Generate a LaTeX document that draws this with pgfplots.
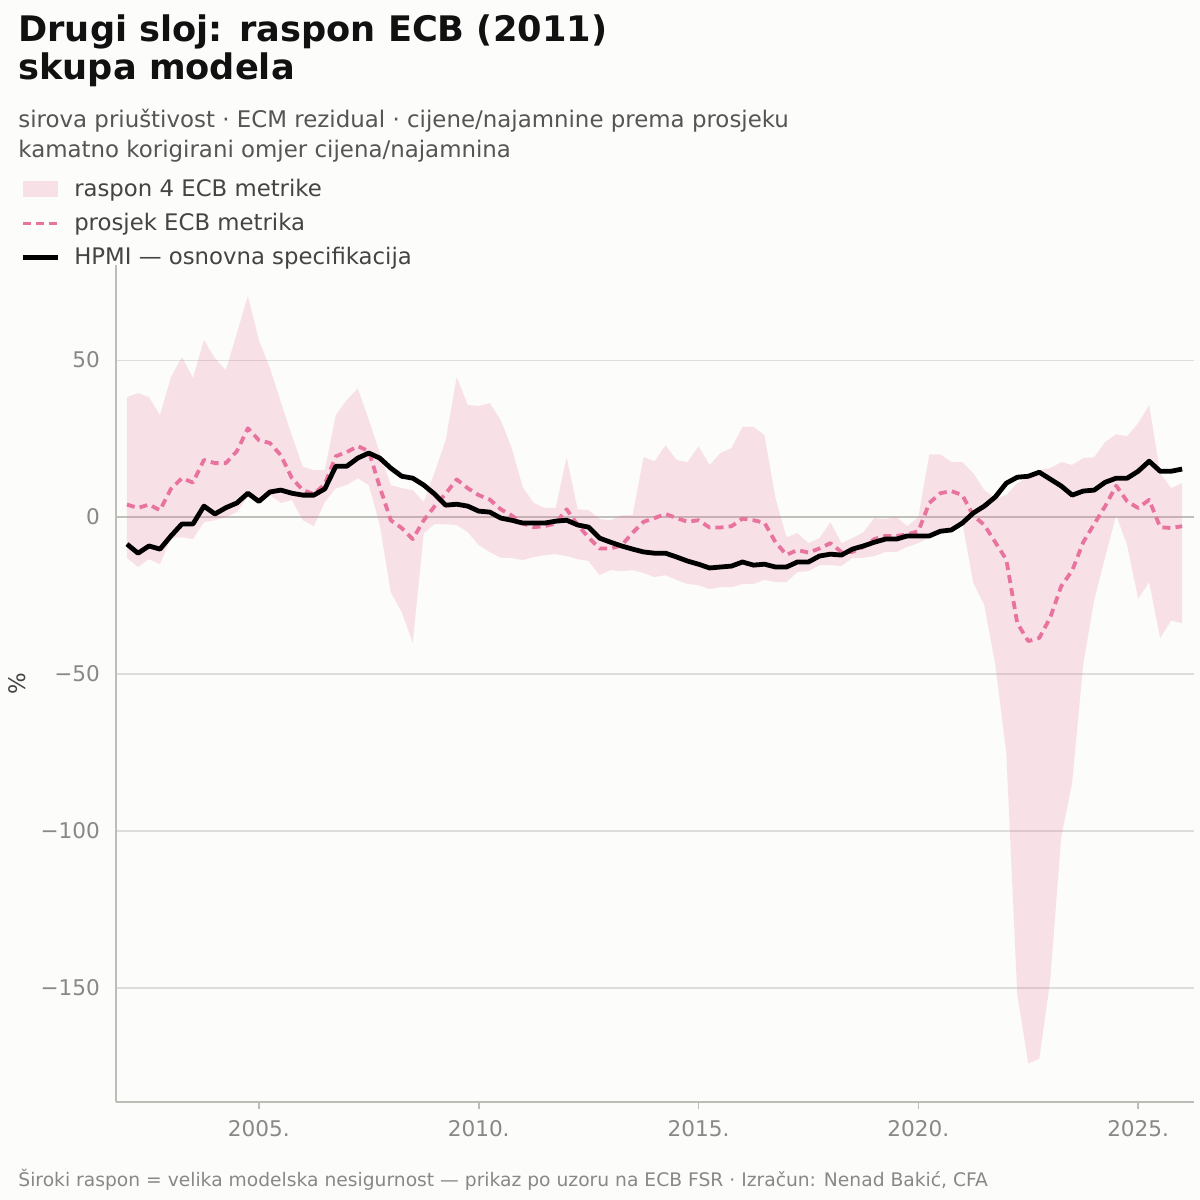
\documentclass[border=0pt]{standalone}
\usepackage{fontspec}
\setmainfont{DejaVu Sans}
\usepackage{pgfplots}
\pgfplotsset{compat=1.18}
\usepackage{pgfplotstable}
\definecolor{bg}{HTML}{FCFCFA}
\definecolor{bandbase}{HTML}{E8739E}
\definecolor{meanpink}{HTML}{E8739E}
\definecolor{titlec}{HTML}{111111}
\definecolor{subc}{HTML}{555555}
\definecolor{legc}{HTML}{444444}
\definecolor{tickc}{HTML}{888888}
\definecolor{gridc}{HTML}{DDDDDD}
\definecolor{zeroc}{HTML}{C0C0BA}
\definecolor{spinec}{HTML}{BDBDB5}
\pgfplotsset{
  linelegend/.style={legend image code/.code={\draw[##1] (0pt,0pt) -- (17.5pt,0pt);}},
  boxlegend/.style={legend image code/.code={\fill[##1] (0pt,-4pt) rectangle (17.5pt,4pt);}},
}

% series: mean of the 4 ECB metrics and HPMI baseline
\pgfplotstableread{
x mean hpmi
2002.00 4 -8.6
2002.25 2.9 -11.5
2002.50 4 -9.2
2002.75 2.2 -10.2
2003.00 9 -6
2003.25 12.4 -2.2
2003.50 11 -2.2
2003.75 18.2 3.5
2004.00 17.2 1
2004.25 17.2 3
2004.50 21 4.5
2004.75 28.3 7.6
2005.00 24.5 5
2005.25 23.6 8
2005.50 19.7 8.6
2005.75 12.4 7.6
2006.00 8.6 7
2006.25 7.3 7
2006.50 10.5 9
2006.75 19.4 16.2
2007.00 20.7 16.2
2007.25 22.6 18.8
2007.50 21 20.4
2007.75 9.6 18.8
2008.00 -1 15.6
2008.25 -3.5 13
2008.50 -7 12.4
2008.75 -1 10.2
2009.00 3.5 7.3
2009.25 7.5 3.8
2009.50 12 4.1
2009.75 9.2 3.5
2010.00 7 1.9
2010.25 5.6 1.6
2010.50 2.5 -0.3
2010.75 0.5 -1
2011.00 -2 -1.9
2011.25 -3.2 -1.9
2011.50 -2.9 -1.9
2011.75 -2 -1.3
2012.00 2.5 -1
2012.25 -2.5 -2.5
2012.50 -6.5 -3.2
2012.75 -10 -6.7
2013.00 -10 -8
2013.25 -9 -9.2
2013.50 -5 -10.2
2013.75 -1.5 -11.1
2014.00 -0.3 -11.5
2014.25 1 -11.5
2014.50 -0.3 -12.7
2014.75 -1.5 -14
2015.00 -1 -15
2015.25 -3.3 -16.2
2015.50 -3.3 -15.9
2015.75 -2.9 -15.6
2016.00 -0.5 -14.3
2016.25 -1 -15.3
2016.50 -1.8 -15
2016.75 -8 -15.9
2017.00 -12 -15.9
2017.25 -10.5 -14.3
2017.50 -11.3 -14.3
2017.75 -10 -12.4
2018.00 -8.3 -11.8
2018.25 -11.1 -12.1
2018.50 -11.1 -10.2
2018.75 -9.5 -9.2
2019.00 -7 -8
2019.25 -6 -7
2019.50 -6 -7
2019.75 -5.5 -6
2020.00 -4.5 -6
2020.25 4.5 -6
2020.50 7.6 -4.5
2020.75 8.3 -4.1
2021.00 7 -1.9
2021.25 0.5 1.3
2021.50 -2.5 3.5
2021.75 -8 6.4
2022.00 -13.5 10.8
2022.25 -33.8 12.7
2022.50 -39.5 13
2022.75 -38.5 14.3
2023.00 -32 12.1
2023.25 -22 9.9
2023.50 -17 7
2023.75 -8 8.3
2024.00 -2.2 8.6
2024.25 3.5 11.1
2024.50 10 12.4
2024.75 5 12.4
2025.00 2.9 14.6
2025.25 5.5 17.8
2025.50 -3.2 14.6
2025.75 -3.5 14.6
2026.00 -2.9 15.3
}\ecbseries

% range band: upper edge forward, then lower edge backward
\pgfplotstableread{
x y
2002.00 38.2
2002.25 39.5
2002.50 38.2
2002.75 32.5
2003.00 44.6
2003.25 51
2003.50 44.3
2003.75 56.4
2004.00 50.6
2004.25 46.8
2004.50 58.6
2004.75 70.4
2005.00 56.4
2005.25 47.5
2005.50 36.6
2005.75 26
2006.00 16
2006.25 15
2006.50 15
2006.75 32.5
2007.00 37.3
2007.25 41
2007.50 31
2007.75 20.4
2008.00 10.2
2008.25 9.2
2008.50 8.6
2008.75 4.8
2009.00 14.3
2009.25 24.5
2009.50 44.6
2009.75 35.7
2010.00 35.4
2010.25 36.3
2010.50 30.9
2010.75 22
2011.00 9.6
2011.25 4.5
2011.50 2.9
2011.75 2.9
2012.00 19.1
2012.25 2.5
2012.50 2.2
2012.75 -0.6
2013.00 -1
2013.25 0.6
2013.50 0.6
2013.75 19.1
2014.00 17.8
2014.25 22.9
2014.50 18.2
2014.75 17.5
2015.00 22.6
2015.25 16.6
2015.50 20.4
2015.75 22
2016.00 28.7
2016.25 28.7
2016.50 26.1
2016.75 6
2017.00 -6.4
2017.25 -5.1
2017.50 -8.3
2017.75 -6.7
2018.00 -1.6
2018.25 -8.3
2018.50 -6.7
2018.75 -4.8
2019.00 -0.3
2019.25 -0.6
2019.50 0
2019.75 -2.9
2020.00 0
2020.25 20
2020.50 20
2020.75 17.5
2021.00 17.5
2021.25 14
2021.50 8.6
2021.75 6
2022.00 7
2022.25 10.8
2022.50 12.7
2022.75 15
2023.00 15.6
2023.25 17.5
2023.50 16.6
2023.75 18.8
2024.00 19.1
2024.25 23.9
2024.50 26.4
2024.75 25.8
2025.00 29.9
2025.25 35.7
2025.50 14
2025.75 9.2
2026.00 10.8
2026.00 -33.8
2025.75 -33
2025.50 -38.5
2025.25 -20.7
2025.00 -26
2024.75 -9
2024.50 0.6
2024.25 -12.7
2024.00 -26.4
2023.75 -47
2023.50 -84.4
2023.25 -102
2023.00 -147.5
2022.75 -172.6
2022.50 -174
2022.25 -152
2022.00 -75
2021.75 -47
2021.50 -28
2021.25 -21
2021.00 -1.6
2020.75 -3.5
2020.50 -4.1
2020.25 -6.4
2020.00 -8.3
2019.75 -9.5
2019.50 -11.1
2019.25 -11.1
2019.00 -12.4
2018.75 -13
2018.50 -13
2018.25 -15.6
2018.00 -15.3
2017.75 -15.3
2017.50 -17.2
2017.25 -17.5
2017.00 -20.7
2016.75 -20.7
2016.50 -20
2016.25 -21.3
2016.00 -21.3
2015.75 -22.3
2015.50 -22.3
2015.25 -22.9
2015.00 -21.7
2014.75 -21.3
2014.50 -20
2014.25 -18.5
2014.00 -19.1
2013.75 -17.8
2013.50 -16.9
2013.25 -17.2
2013.00 -16.9
2012.75 -18.5
2012.50 -14
2012.25 -13.4
2012.00 -12.4
2011.75 -11.8
2011.50 -12.1
2011.25 -12.7
2011.00 -13.7
2010.75 -13
2010.50 -13
2010.25 -11.1
2010.00 -8.9
2009.75 -4.8
2009.50 -2.5
2009.25 -2.3
2009.00 -2.2
2008.75 -5.1
2008.50 -40
2008.25 -30.3
2008.00 -23.9
2007.75 -2.5
2007.50 10.2
2007.25 12.4
2007.00 10.2
2006.75 9.2
2006.50 4.8
2006.25 -2.9
2006.00 -1
2005.75 5.4
2005.50 4.5
2005.25 7
2005.00 5.4
2004.75 6.4
2004.50 1.6
2004.25 0
2004.00 -1
2003.75 -1.6
2003.50 -7
2003.25 -6.4
2003.00 -6.7
2002.75 -15
2002.50 -13.4
2002.25 -15.9
2002.00 -13
}\ecbband

\begin{document}
\begin{tikzpicture}
\fill[bg] (0pt,0pt) rectangle (600pt,600pt);
\path[use as bounding box] (0pt,0pt) rectangle (600pt,600pt);
\node[anchor=base west, inner sep=0pt, text=titlec, font=\bfseries\fontsize{17.6}{21}\selectfont] at (9pt,579pt) {Drugi sloj: raspon ECB (2011)};
\node[anchor=base west, inner sep=0pt, text=titlec, font=\bfseries\fontsize{17.6}{21}\selectfont] at (9pt,560pt) {skupa modela};
\node[anchor=base west, inner sep=0pt, text=subc, font=\fontsize{11.45}{13}\selectfont] at (9pt,536.2pt) {sirova priuštivost · ECM rezidual · cijene/najamnine prema prosjeku};
\node[anchor=base west, inner sep=0pt, text=subc, font=\fontsize{11.45}{13}\selectfont] at (9pt,521.2pt) {kamatno korigirani omjer cijena/najamnina};
\node[anchor=base west, inner sep=0pt, text=tickc, font=\fontsize{9.35}{11}\selectfont] at (9pt,6.5pt) {Široki raspon = velika modelska nesigurnost — prikaz po uzoru na ECB FSR · Izračun: Nenad Bakić, CFA};
\begin{axis}[
  at={(58pt,49pt)}, anchor=south west,
  scale only axis, width=539pt, height=418.5pt,
  xmin=2001.75, xmax=2026.27, ymin=-186.3, ymax=80.3,
  axis x line*=bottom, axis y line*=left,
  axis line style={draw=spinec, line width=0.9pt},
  xtick={2005,2010,2015,2020,2025},
  xticklabels={2005.,2010.,2015.,2020.,2025.},
  ytick={-150,-100,-50,0,50},
  yticklabels={−150,−100,−50,0,50},
  tick align=outside,
  major tick length=3.5pt,
  xtick style={draw=spinec, line width=0.8pt},
  ytick style={draw=none},
  ticklabel style={text=tickc, font=\fontsize{10.8}{12}\selectfont},
  xticklabel style={yshift=-2pt},
  yticklabel style={xshift=-1pt},
  ymajorgrids, grid style={draw=gridc, line width=0.6pt},
  ylabel={\%},
  ylabel style={at={(axis description cs:-0.092,0.5)}, anchor=center, text=legc, font=\fontsize{11.4}{13}\selectfont},
  legend style={at={(axis description cs:-0.089,1.108)}, anchor=north west, draw=none, fill=none,
    font=\fontsize{11.4}{13}\selectfont, text=legc, row sep=3pt, inner sep=0pt,
    /tikz/every odd column/.append style={column sep=5pt}},
  legend cell align=left,
]
\addplot[zeroc, line width=0.8pt, forget plot] coordinates {(2001.75,0) (2026.27,0)};
\addplot[fill=bandbase, fill opacity=0.2, draw=none, area legend, boxlegend] table[x=x,y=y]{\ecbband} -- cycle;
\addlegendentry{raspon 4 ECB metrike}
\addplot[meanpink, line width=1.9pt, dash pattern=on 4pt off 2.6pt, line join=round, linelegend] table[x=x,y=mean]{\ecbseries};
\addlegendentry{prosjek ECB metrika}
\addplot[black, line width=2.4pt, line join=round, linelegend] table[x=x,y=hpmi]{\ecbseries};
\addlegendentry{HPMI — osnovna specifikacija}
\end{axis}
\end{tikzpicture}
\end{document}
